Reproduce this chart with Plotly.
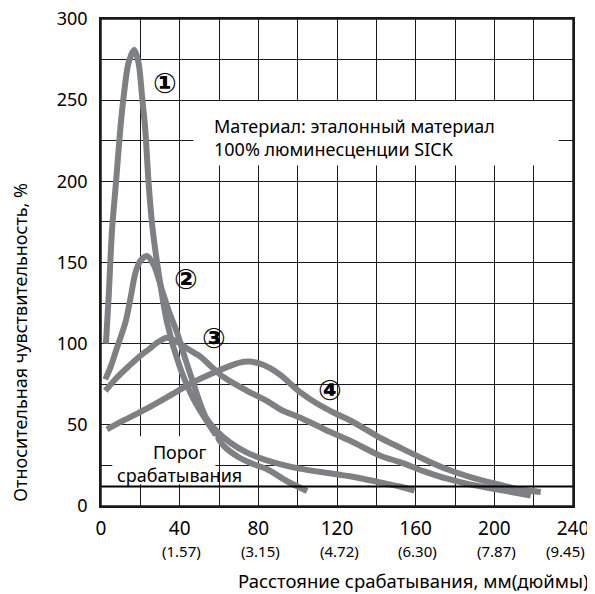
import plotly.graph_objects as go

# ---- data ----
c1_x = [2.5, 3.9, 5.6, 7.6, 9.8, 11.5, 14, 16.9, 19.1, 20.9, 22.5, 24.2, 26.3, 28.5, 33.6, 40, 47, 55, 62.4, 70, 77, 84.5, 95, 104.8]
c1_y = [100, 129, 170, 199, 232, 252, 273, 281, 273, 252, 232, 199, 170, 150, 113, 86, 66, 50, 37, 30, 26, 22.6, 15, 9.2]

c2_x = [2.2, 5, 8, 12.4, 15, 17.5, 20, 23.4, 27, 31, 34.5, 38.7, 42.5, 46.3, 53, 59, 65.8, 74, 82.7, 92, 101, 117, 130, 142, 152, 159.4]
c2_y = [78, 86, 97, 113, 128, 143.6, 151, 154, 148, 133, 120, 106.7, 92, 78, 55.4, 46, 39, 33, 28.7, 25.5, 23, 20, 17.6, 14.5, 12, 9.5]

c3_x = [2.2, 8, 14, 19, 24.2, 29, 33.6, 39, 44.6, 50.5, 56, 61.6, 67.5, 75, 84.5, 92, 101.4, 114, 127, 142, 152, 164, 176, 188, 200, 210, 218.5]
c3_y = [71, 79, 86, 91.5, 96.4, 101, 103.6, 101, 96.4, 92, 86, 80, 75.5, 70.5, 64.6, 59, 54.4, 47, 40, 31, 27, 21.5, 16.8, 13.2, 10.5, 8.3, 6.5]

c4_x = [3, 12, 22.5, 35, 48, 57, 65, 70, 75, 80, 86, 92, 97, 101.4, 110, 120, 127, 142, 152, 164, 176, 190, 201.5, 212, 223.6]
c4_y = [47.2, 53, 59.5, 68, 77, 82, 86, 88.2, 89, 88, 85, 80, 74.5, 70, 63, 56.5, 52.5, 42, 36, 29, 22.6, 17, 13.4, 10.5, 8.6]

curve_labels = ["①", "②", "③", "④"]
label_x = [32.7, 43.4, 57.7, 116.2]
label_y = [260, 139.5, 103, 71.2]

x_grid = list(range(0, 241, 20))
x_labels = ["0", "", "40", "", "80", "", "120", "", "160", "", "200", "", "240"]
x_inch_pos = [40, 80, 120, 160, 200, 240]
x_inch = ["(1.57)", "(3.15)", "(4.72)", "(6.30)", "(7.87)", "(9.45)"]
y_grid = list(range(0, 301, 25))
y_labels = ["0", "", "50", "", "100", "", "150", "", "200", "", "250", "", "300"]
threshold = 12

FONT = "Noto Sans"
GRAY = "#7f8083"
GRID = "#1a1a1a"

fig = go.Figure()
for xs, ys in [(c1_x, c1_y), (c2_x, c2_y), (c3_x, c3_y), (c4_x, c4_y)]:
    fig.add_trace(go.Scatter(x=xs, y=ys, mode="lines",
                             line=dict(color=GRAY, width=6, shape="spline", smoothing=0.8),
                             showlegend=False, hoverinfo="skip"))

shapes = [
    dict(type="rect", xref="x", yref="y", x0=47, x1=232.7, y0=209.7, y1=249.4,
         fillcolor="white", line=dict(width=0), layer="above"),
    dict(type="rect", xref="x", yref="y", x0=5.75, x1=58.2, y0=13.4, y1=42.9,
         fillcolor="white", line=dict(width=0), layer="above"),
    dict(type="line", xref="paper", yref="y", x0=0, x1=1, y0=threshold, y1=threshold,
         line=dict(color="black", width=2), layer="above"),
    dict(type="rect", xref="paper", yref="paper", x0=0, x1=1, y0=0, y1=1,
         line=dict(color=GRID, width=1.5), fillcolor="rgba(0,0,0,0)", layer="above"),
]

ann = []
for t, lx, ly in zip(curve_labels, label_x, label_y):
    ann.append(dict(x=lx, y=ly, xref="x", yref="y", text=t, showarrow=False,
                    font=dict(family="DejaVu Sans", size=28, color="black", weight="bold")))
ann.append(dict(x=56.6, y=227, xref="x", yref="y", xanchor="left", yanchor="middle",
                text="Материал: эталонный материал<br>100% люминесценции SICK", align="left",
                showarrow=False, font=dict(family=FONT, size=18, color="black")))
ann.append(dict(x=40, y=26, xref="x", yref="y", xanchor="center", yanchor="middle",
                text="Порог<br>срабатывания", align="center",
                showarrow=False, font=dict(family=FONT, size=18, color="black")))
for xv, t in zip(x_inch_pos, x_inch):
    last = xv == x_inch_pos[-1]
    ann.append(dict(x=xv, y=-0.093, xref="x", yref="paper", text=t, showarrow=False,
                    xanchor="right" if last else "center", yanchor="middle",
                    xshift=14 if last else 2,
                    font=dict(family=FONT, size=15, color="black")))
ann.append(dict(x=1.038, y=-0.153, xref="paper", yref="paper", xanchor="right", yanchor="middle",
                text="Расстояние срабатывания, мм(дюймы)", showarrow=False,
                font=dict(family=FONT, size=18.5, color="black")))
ann.append(dict(x=-0.171, y=0.336, xref="paper", yref="paper", xanchor="center", yanchor="middle",
                text="Относительная чувствительность, %", textangle=-90, showarrow=False,
                font=dict(family=FONT, size=18, color="black")))

fig.update_layout(
    width=587, height=586,
    margin=dict(l=93, r=22, t=11, b=88, autoexpand=False),
    paper_bgcolor="white", plot_bgcolor="white",
    shapes=shapes, annotations=ann,
    font=dict(family=FONT, size=18, color="black"),
    xaxis=dict(range=[0, 240], tickmode="array", tickvals=x_grid, ticktext=x_labels,
               showgrid=True, gridcolor=GRID, gridwidth=1.2,
               showline=True, linecolor=GRID, linewidth=1.5, mirror=True,
               zeroline=False, ticks="outside", ticklen=4, tickcolor="rgba(0,0,0,0)",
               tickfont=dict(family=FONT, size=19), automargin=False,
               ticklabeloverflow="allow"),
    yaxis=dict(range=[0, 300], tickmode="array", tickvals=y_grid, ticktext=y_labels,
               showgrid=True, gridcolor=GRID, gridwidth=1.2,
               showline=True, linecolor=GRID, linewidth=1.5, mirror=True,
               zeroline=False, ticks="outside", ticklen=8, tickcolor="rgba(0,0,0,0)",
               tickfont=dict(family=FONT, size=18), automargin=False,
               ticklabeloverflow="allow"),
)

fig.write_html("out.html")
